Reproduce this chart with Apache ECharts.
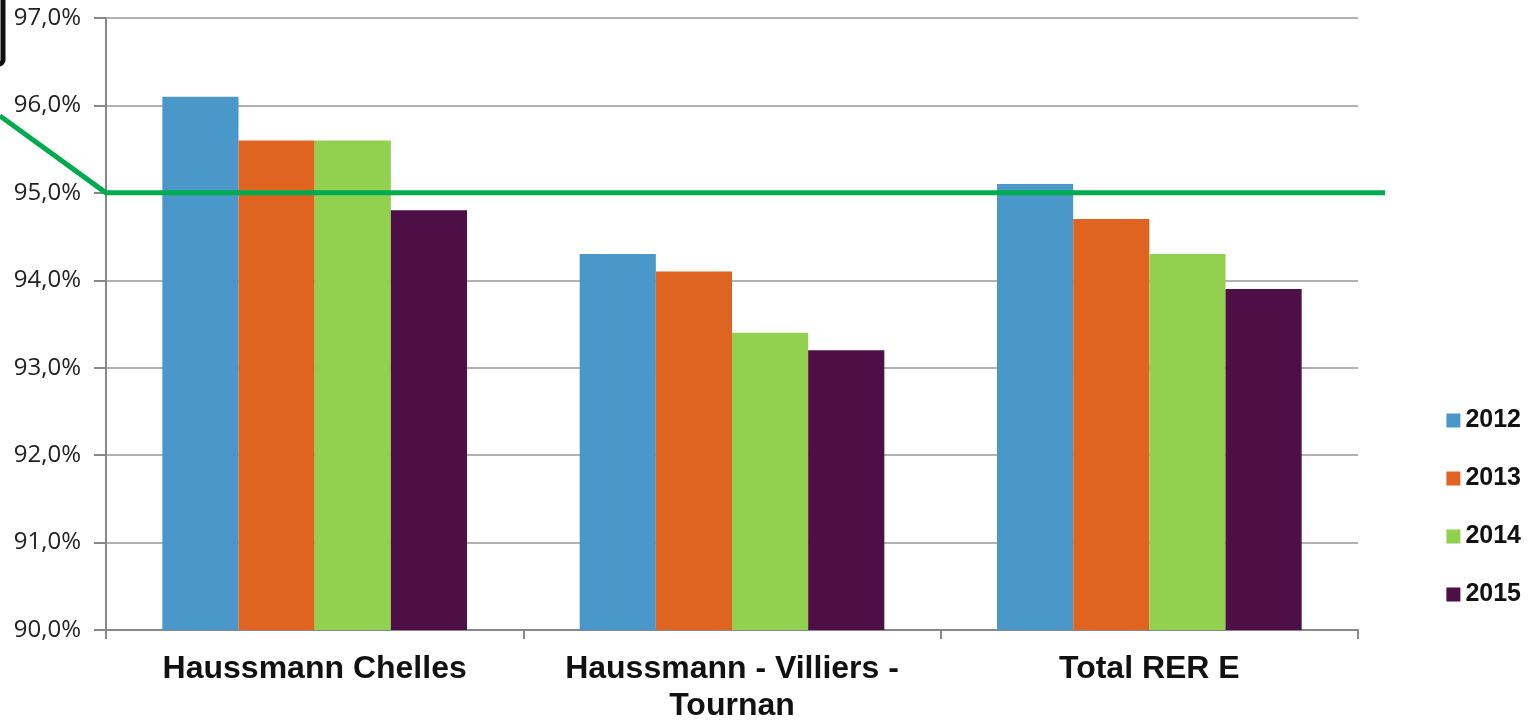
<!DOCTYPE html>
<html>
<head>
<meta charset="utf-8">
<script src="https://cdn.jsdelivr.net/npm/echarts@6/dist/echarts.min.js"></script>
<style>
  html, body { margin: 0; padding: 0; background: #fff; }
  #chart { width: 1530px; height: 720px; }
</style>
</head>
<body>
<div id="chart"></div>
<script>
// data
var categories = ['Haussmann Chelles', 'Haussmann - Villiers -\nTournan', 'Total RER E'];
var years = ['2012', '2013', '2014', '2015'];
var values2012 = [96.1, 94.3, 95.1];
var values2013 = [95.6, 94.1, 94.7];
var values2014 = [95.6, 93.4, 94.3];
var values2015 = [94.8, 93.2, 93.9];
var yTicks = [90, 91, 92, 93, 94, 95, 96, 97];
// objectif line, x in pixel-like units of the overlay axis
var targetX = [0, 106, 1385];
var targetY = [95.88, 95, 95];

var colors = ['#4A98C9', '#E06421', '#92D050', '#4D0F46'];

window.onload = function () {
    var myChart = echarts.init(document.getElementById('chart'));
    var allValues = [values2012, values2013, values2014, values2015];

    var series = years.map(function (y, i) {
        return {
            name: y,
            type: 'bar',
            xAxisIndex: 0,
            yAxisIndex: 0,
            barGap: '0%',
            barCategoryGap: '27%',
            itemStyle: { color: colors[i] },
            data: allValues[i]
        };
    });
    series.push({
        name: 'objectif',
        type: 'line',
        xAxisIndex: 1,
        yAxisIndex: 1,
        symbol: 'none',
        silent: true,
        z: 5,
        lineStyle: { color: '#00AA4F', width: 5 },
        data: targetX.map(function (x, i) { return [x, targetY[i]]; })
    });

    var option = {
        animation: false,
        grid: [
            { left: 106, right: 172, top: 18, bottom: 90, containLabel: false, outerBoundsMode: 'none' },
            { left: 0, right: 145, top: 18, bottom: 90, containLabel: false, outerBoundsMode: 'none' }
        ],
        legend: {
            orient: 'vertical',
            right: 4,
            top: 403,
            icon: 'rect',
            itemWidth: 14,
            itemHeight: 14,
            itemGap: 33,
            data: years,
            textStyle: { fontFamily: 'Liberation Sans', fontWeight: 'bold', fontSize: 25, color: '#111' }
        },
        xAxis: [
            {
                type: 'category',
                data: categories,
                gridIndex: 0,
                axisLine: { lineStyle: { color: '#888', width: 2 } },
                axisTick: { show: true, length: 9, lineStyle: { color: '#888', width: 2 } },
                axisLabel: {
                    fontFamily: 'Liberation Sans', fontWeight: 'bold', fontSize: 32,
                    color: '#111', margin: 21, lineHeight: 37, interval: 0
                }
            },
            {
                type: 'value', gridIndex: 1, min: 0, max: 1385, show: false
            }
        ],
        yAxis: [
            {
                type: 'value',
                gridIndex: 0,
                min: yTicks[0],
                max: yTicks[yTicks.length - 1],
                interval: 1,
                axisLine: { show: true, lineStyle: { color: '#888', width: 2 } },
                axisTick: { show: true, length: 12, lineStyle: { color: '#888', width: 2 } },
                splitLine: { lineStyle: { color: '#999', width: 1.5 } },
                axisLabel: {
                    fontFamily: 'Open Sans', fontSize: 24, color: '#222', margin: 25,
                    formatter: function (v) { return v.toFixed(1).replace('.', ',') + '%'; }
                }
            },
            {
                type: 'value', gridIndex: 1,
                min: yTicks[0], max: yTicks[yTicks.length - 1], show: false
            }
        ],
        graphic: [
            {
                type: 'rect',
                shape: { x: -12, y: -12, width: 15, height: 76, r: 4 },
                style: { fill: 'none', stroke: '#111', lineWidth: 5 }
            }
        ],
        series: series
    };
    myChart.setOption(option, true);
};
</script>
</body>
</html>
